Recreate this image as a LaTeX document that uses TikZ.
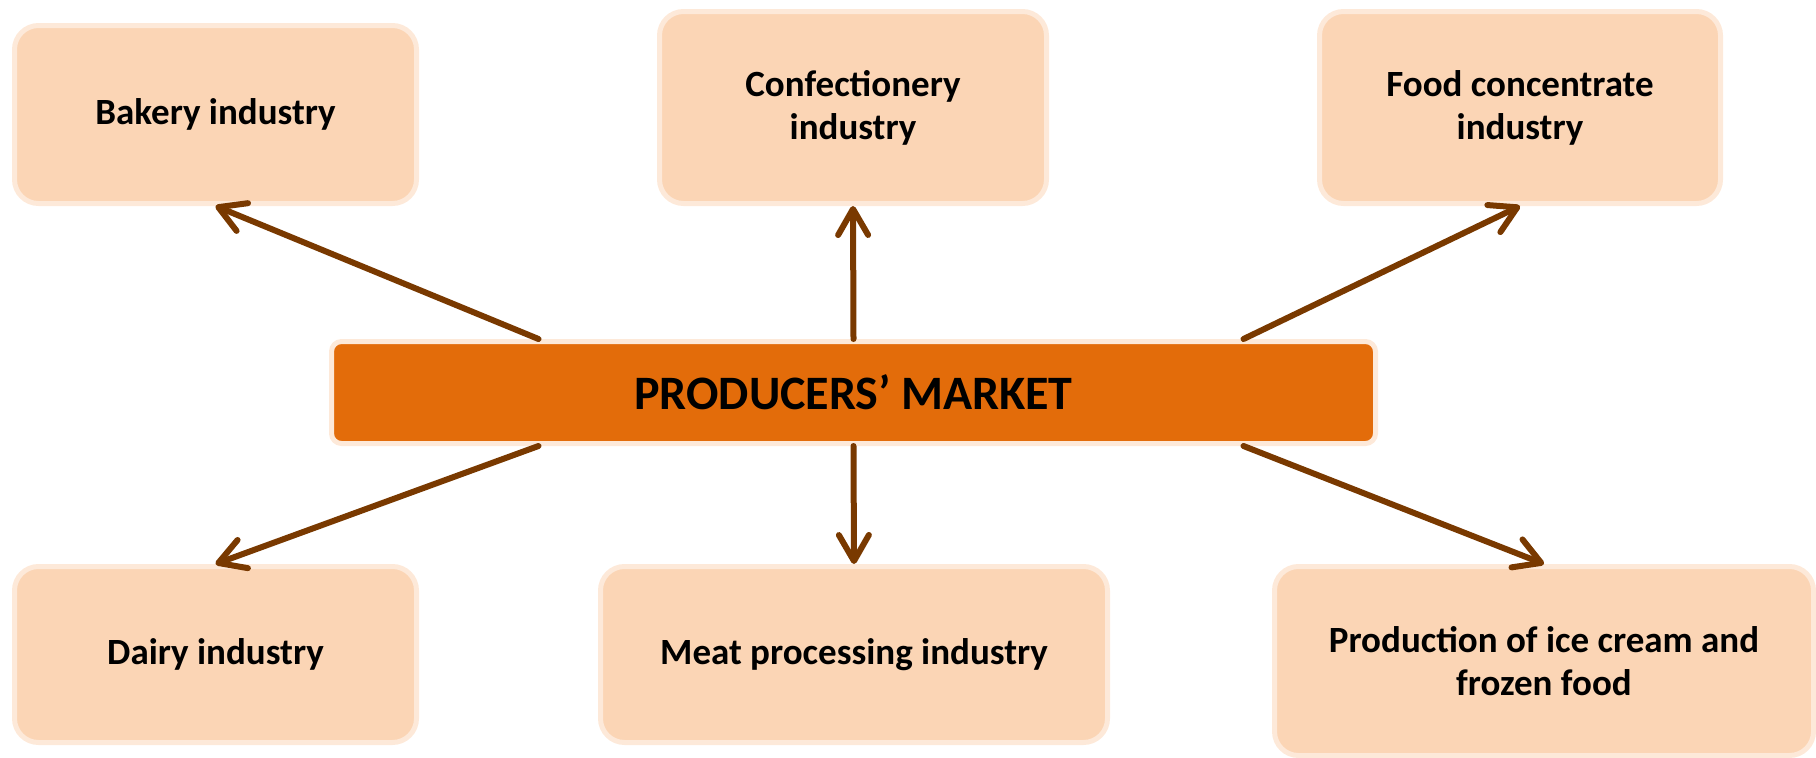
\documentclass[tikz,border=0pt]{standalone}
\usepackage{fontspec}
\setmainfont{Carlito}
\usepackage{tikz}
\usetikzlibrary{arrows.meta}

\definecolor{boxfill}{RGB}{251,213,181}
\definecolor{boxline}{RGB}{253,233,217}
\definecolor{marketfill}{RGB}{227,108,10}
\definecolor{arrowbrown}{RGB}{121,57,0}

\tikzset{
  branch/.style={draw=boxline, fill=boxfill, line width=5pt, rounded corners=24pt,
    align=center, font=\fontsize{37}{43}\selectfont\bfseries, inner sep=0pt},
  market/.style={draw=boxline, fill=marketfill, line width=5pt, rounded corners=10pt,
    font=\fontsize{48}{56}\selectfont\bfseries, inner sep=0pt},
  link/.style={draw=arrowbrown, line width=6pt, line cap=round,
    -{Straight Barb[length=26pt,width=30pt,round]}}
}

\begin{document}
\begin{tikzpicture}[x=1pt,y=1pt,yscale=-1,xscale=1]
\useasboundingbox (0,0) rectangle (1816,758);

%Rounded Rect: centre
\node [market, minimum width=1044pt, minimum height=102pt] (market) at (853.5,392.5) {PRODUCERS’ MARKET};

%Rounded Rect: top row
\node [branch, minimum width=402pt, minimum height=178pt] (bakery) at (215.5,114.5) {Bakery industry};
\node [branch, minimum width=387pt, minimum height=192pt] (confect) at (853,107.5) {Confectionery\\industry};
\node [branch, minimum width=401pt, minimum height=192pt] (foodconc) at (1520,107.5) {Food concentrate\\industry};

%Rounded Rect: bottom row
\node [branch, minimum width=402pt, minimum height=176pt] (dairy) at (215.5,654.5) {Dairy industry};
\node [branch, minimum width=507pt, minimum height=176pt] (meat) at (854,654.5) {Meat processing industry};
\node [branch, minimum width=539pt, minimum height=189pt] (icecream) at (1544,661) {Production of ice cream and\\frozen food};

%Straight Lines: upwards
\draw [link] ([xshift=-315pt]market.north) -- (bakery.south);
\draw [link] (market.north) -- (confect.south);
\draw [link] ([xshift=390pt]market.north) -- (foodconc.south);

%Straight Lines: downwards
\draw [link] ([xshift=-315pt]market.south) -- (dairy.north);
\draw [link] (market.south) -- (meat.north);
\draw [link] ([xshift=390pt]market.south) -- (icecream.north);

\end{tikzpicture}
\end{document}
